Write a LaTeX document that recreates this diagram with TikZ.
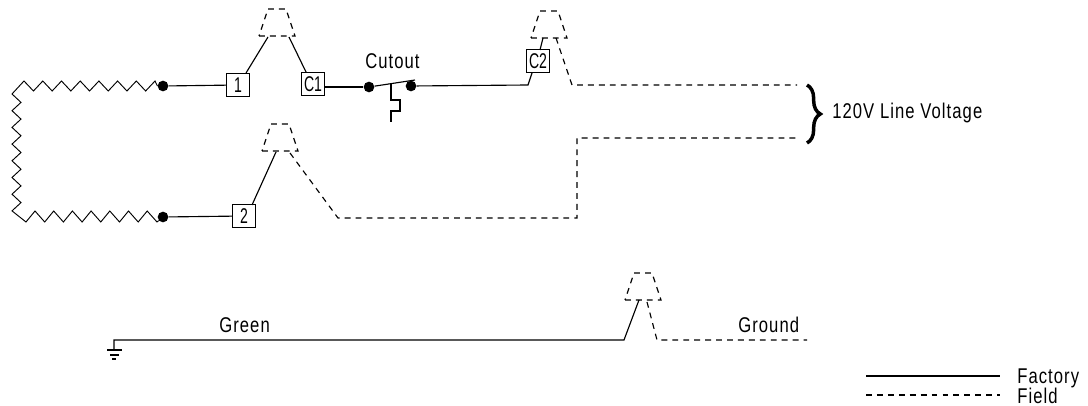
\documentclass[tikz,border=0pt]{standalone}
\usepackage{fontspec}
\setmainfont[FakeStretch=0.78,LetterSpace=5]{Liberation Sans}
\newfontfamily\boxfont[FakeStretch=0.66]{Liberation Sans}
\usetikzlibrary{decorations.pathreplacing}
\tikzset{
    wire/.style={line width=0.85pt},
    fieldwire/.style={line width=0.85pt,dash pattern=on 4.4pt off 3.8pt},
    terminal/.style={draw,line width=0.85pt,minimum size=17pt,inner sep=0pt,font=\boxfont\fontsize{16}{16}\selectfont},
    terminaldot/.style={circle,fill=black,inner sep=0pt,minimum size=8pt},
    caption/.style={anchor=base west,inner sep=0pt,font=\fontsize{16}{16}\selectfont},
    coil/.style={line width=0.7pt,line join=miter}
}
\begin{document}
\begin{tikzpicture}[x=0.75pt,y=-0.75pt]
            \useasboundingbox (0,0) rectangle (1088,406);

            % terminals
            \node[terminaldot] (dotA) at (163,86) {};
            \node[terminaldot] (dotB) at (163,217) {};
            \node[terminaldot] (cutA) at (369,87) {};
            \node[terminaldot] (cutB) at (411,86) {};
            \node[terminal] (box1) at (238,85) {1};
            \node[terminal] (boxC1) at (313,84) {C1};
            \node[terminal] (boxC2) at (538,61) {C2};
            \node[terminal] (box2) at (244,216) {2};

            % plugs
            \foreach \x/\y in {277/36,280/151,549/38,643/300}
                \draw[fieldwire] (\x-18,\y) -- (\x+18,\y) -- (\x+9,\y-27) -- (\x-9,\y-27) -- cycle;

            % heater coil
            \draw[coil] (dotA.west)
                foreach \k in {0,...,6} { -- ({155-18.7*\k},81) -- ({145.65-18.7*\k},91) }
                -- (24,81) -- (12,94)
                foreach \k in {0,...,6} { -- (21,{102.4+16.7*\k}) -- (12,{110.7+16.7*\k}) }
                foreach \k in {0,...,6} { -- ({26+18.7*\k},222) -- ({35+18.7*\k},211) }
                -- (157,222) -- (dotB);

            % factory wiring
            \coordinate (plug1L) at (268,37);
            \coordinate (plug1R) at (289,37);
            \coordinate (plug2L) at (276,152);
            \coordinate (plugC2L) at (543,38);
            \coordinate (plugGL) at (639,300);
            \coordinate (bendC2) at (528,85);
            \coordinate (bendG) at (624,340);
            \coordinate (earth) at (114,340);
            \coordinate (earthTop) at (114,350);
            \draw[wire] (dotA) -- (box1);
            \draw[wire] (dotB) -- (box2);
            \draw[wire] (246,73) -- (plug1L);
            \draw[wire] (306,72) -- (plug1R);
            \draw[wire] (252,205) -- (plug2L);
            \draw[wire] (325,87) -- (cutA);
            \draw[wire] (cutB) -- (bendC2) -- (532,73);
            \draw[wire] (540,50) -- (plugC2L);
            \draw[wire] (plugGL) -- (bendG) -- (earth) -- (earthTop);

            % cutout
            \coordinate (bladeEnd) at (415,80);
            \coordinate (hook) at (391,84);
            \draw[wire] (cutA) -- (bladeEnd);
            \draw[wire] (hook) -- (391,100) -- (400,100) -- (400,111) -- (391,111) -- (391,122);

            % earth symbol
            \draw[wire] (107,350) -- (122,350);
            \draw[wire] (110,355) -- (119,355);
            \draw[wire] (112,359) -- (116,359);

            % field wiring
            \coordinate (lineA) at (797,85);
            \coordinate (lineB) at (797,138);
            \coordinate (groundEnd) at (807,340);
            \draw[fieldwire] (556,38) -- (572,85) -- (lineA);
            \draw[fieldwire] (290,153) -- (338,218) -- (577,218) -- (577,138) -- (lineB);
            \draw[fieldwire] (647,302) -- (657,340) -- (groundEnd);

            % brace
            \draw[line width=2.6pt,decorate,decoration={brace,amplitude=10pt}] (807,85) -- (807,143);

            % labels
            \node[caption] (cutoutlabel) at (365,69) {Cutout};
            \node[caption] (voltagelabel) at (832,119) {120V Line Voltage};
            \node[caption] (greenlabel) at (219,332) {Green};
            \node[caption] (groundlabel) at (738,332) {Ground};

            % legend
            \coordinate (factoryA) at (866,376);
            \coordinate (factoryB) at (1000,376);
            \coordinate (fieldA) at (866,395);
            \coordinate (fieldB) at (1000,395);
            \draw[wire] (factoryA) -- (factoryB);
            \draw[fieldwire] (fieldA) -- (fieldB);
            \node[caption] (factorylabel) at (1017,383) {Factory};
            \node[caption] (fieldlabel) at (1017,403) {Field};
\end{tikzpicture}
\end{document}
